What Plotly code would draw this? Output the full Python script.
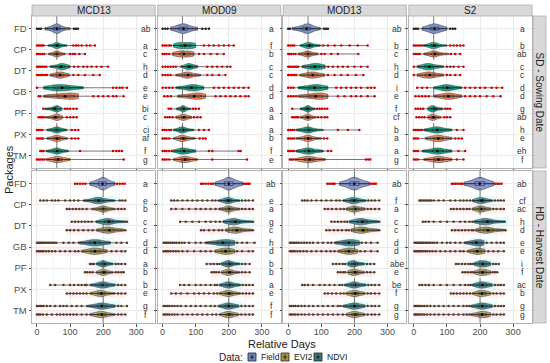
import numpy as np
import plotly.graph_objects as go
from plotly.subplots import make_subplots

packages = ["FD", "CP", "DT", "GB", "PF", "PX", "TM"]
sensors = ["MCD13", "MOD09", "MOD13", "S2"]
periods = ["SD - Sowing Date", "HD - Harvest Date"]
row_keys = ["FD", "CP_N", "CP_E", "DT_N", "DT_E", "GB_N", "GB_E",
            "PF_N", "PF_E", "PX_N", "PX_E", "TM_N", "TM_E"]
x_ticks = [0, 100, 200, 300]
ref_day = [60, 200]

# ---- Sowing date (SD): (core values, outlier values) ----
SD_MCD13 = {
    "FD": ([24, 35, 45, 52, 56, 58, 60, 62, 64, 68, 75, 85, 100], [0, 6, 12, 112, 118, 124]),
    "CP_N": ([33, 45, 52, 56, 59, 60, 61, 63, 66, 72, 80, 90], [0, 5, 10, 15, 20, 110, 118, 125, 135, 150, 160, 175]),
    "CP_E": ([35, 45, 52, 56, 58, 60, 62, 64, 68, 75, 85], [0, 5, 10, 16, 22, 100, 108, 115, 128, 145]),
    "DT_N": ([40, 52, 62, 68, 72, 75, 77, 80, 85, 92, 100], [0, 5, 10, 16, 22, 28, 112, 125, 140, 152, 165, 180, 195, 215]),
    "DT_E": ([40, 50, 58, 64, 68, 70, 72, 76, 82, 90, 98], [0, 6, 12, 18, 25, 30, 110, 125, 145, 170, 190]),
    "GB_N": ([20, 35, 45, 55, 62, 68, 72, 78, 85, 95, 110, 125, 140], [0, 230, 240, 250, 258, 272]),
    "GB_E": ([20, 40, 55, 65, 75, 85, 95, 105, 112, 115, 118, 125], [5, 10, 170, 185, 200, 215, 230, 240, 262]),
    "PF_N": ([24, 35, 45, 52, 56, 58, 60, 62, 64, 68, 75], [19, 85, 92, 100, 110, 120]),
    "PF_E": ([24, 38, 48, 54, 58, 60, 62, 65, 70, 78], [5, 10, 15, 20, 90, 100, 110, 120]),
    "PX_N": ([30, 42, 50, 55, 58, 60, 62, 65, 70, 78, 90], [0, 5, 10, 16, 105, 115, 125]),
    "PX_E": ([30, 42, 50, 55, 58, 60, 62, 66, 72, 80, 92], [0, 6, 12, 18, 105, 115, 125]),
    "TM_N": ([28, 40, 50, 55, 58, 60, 62, 66, 72, 82, 95], [10, 15, 20, 130, 230, 240, 248, 257]),
    "TM_E": ([28, 40, 50, 56, 60, 62, 65, 70, 78, 88, 100], [0, 5, 10, 16, 22, 262]),
}
SD_MOD09 = {
    "FD": ([24, 38, 48, 55, 60, 63, 66, 70, 78, 90, 106], [0, 8, 15, 120, 130, 140]),
    "CP_N": ([33, 45, 52, 55, 57, 65, 80, 84, 86, 90, 100], [0, 6, 12, 20, 25, 125, 140, 155, 170, 185, 200, 215]),
    "CP_E": ([30, 42, 52, 55, 57, 65, 78, 84, 86, 95], [0, 6, 12, 20, 110, 125, 145, 165, 185]),
    "DT_N": ([55, 65, 72, 76, 79, 80, 82, 85, 92, 100, 106], [0, 8, 16, 24, 32, 40, 135, 150, 165, 180, 195, 205]),
    "DT_E": ([40, 55, 65, 70, 74, 76, 78, 82, 90, 102, 115], [0, 8, 16, 24, 135, 150, 170, 190]),
    "GB_N": ([40, 55, 70, 80, 86, 90, 93, 98, 105, 115, 125], [0, 10, 20, 30, 155, 170, 185, 200, 215, 230, 245, 260]),
    "GB_E": ([45, 60, 75, 88, 95, 98, 105, 115, 118, 122, 130], [5, 15, 25, 160, 175, 190, 205, 220, 235, 250, 260]),
    "PF_N": ([42, 50, 56, 60, 62, 63, 65, 68, 74, 85], [18, 25, 92, 100, 110]),
    "PF_E": ([40, 50, 56, 60, 62, 64, 67, 72, 80, 88], [8, 15, 22, 30, 95, 105, 115]),
    "PX_N": ([33, 45, 52, 56, 58, 60, 63, 66, 72, 82, 95], [0, 6, 12, 20, 25, 110, 125, 140]),
    "PX_E": ([33, 45, 52, 56, 58, 60, 64, 68, 75, 85, 98], [0, 6, 12, 20, 112, 122, 130]),
    "TM_N": ([30, 44, 52, 56, 60, 63, 66, 72, 80, 90, 100], [0, 6, 12, 20, 28, 140, 150, 230, 236]),
    "TM_E": ([33, 46, 54, 60, 64, 67, 70, 75, 82, 92, 105], [0, 6, 12, 20, 150, 255]),
}
SD_MOD13 = {
    "FD": ([12, 28, 40, 48, 55, 58, 60, 63, 68, 78, 97], [0, 5, 108, 114, 120]),
    "CP_N": ([36, 48, 54, 58, 60, 62, 64, 68, 75, 85, 97], [0, 6, 12, 18, 106, 120, 140, 160, 185, 210, 240]),
    "CP_E": ([30, 42, 50, 54, 57, 59, 61, 64, 70, 80, 90], [0, 5, 10, 16, 22, 100, 110, 130, 150, 212]),
    "DT_N": ([42, 55, 65, 72, 78, 82, 85, 90, 97, 105, 112], [0, 6, 12, 18, 24, 30, 121, 135, 150, 165, 180, 200, 220, 240]),
    "DT_E": ([35, 50, 60, 66, 70, 73, 76, 82, 90, 100, 110], [0, 6, 12, 18, 24, 120, 140, 160, 180, 205, 227]),
    "GB_N": ([30, 45, 60, 70, 78, 82, 86, 92, 100, 110, 120], [0, 8, 16, 145, 160, 175, 190, 205, 220, 240, 250, 261]),
    "GB_E": ([30, 45, 60, 72, 80, 88, 95, 102, 105, 110, 120], [0, 8, 16, 24, 150, 170, 190, 205, 220, 240, 261]),
    "PF_N": ([36, 46, 52, 56, 59, 60, 62, 65, 70, 82], [12, 88, 95, 102, 110, 118]),
    "PF_E": ([36, 46, 52, 56, 59, 60, 62, 66, 72, 84], [12, 18, 24, 30, 90, 100, 110, 118]),
    "PX_N": ([24, 38, 48, 54, 58, 60, 62, 66, 74, 88, 106], [0, 6, 12, 18, 150, 180, 215]),
    "PX_E": ([24, 38, 48, 54, 58, 60, 62, 66, 72, 84, 100], [0, 6, 12, 18, 108, 118]),
    "TM_N": ([24, 38, 48, 54, 58, 61, 64, 70, 78, 92, 106], [0, 6, 12, 18, 120, 130]),
    "TM_E": ([20, 36, 46, 54, 58, 62, 66, 72, 82, 98, 112], [5, 10, 15, 235, 242, 248]),
}
SD_S2 = {
    "FD": ([25, 38, 48, 55, 59, 62, 65, 70, 78, 88, 100], [0, 6, 12, 110, 118, 125]),
    "CP_N": ([28, 42, 50, 55, 58, 60, 62, 66, 72, 84, 100], [0, 6, 12, 18, 24, 110, 120, 130, 140, 150]),
    "CP_E": ([30, 44, 52, 56, 59, 61, 64, 68, 75, 88, 105], [0, 6, 12, 18, 112, 125, 140]),
    "DT_N": ([10, 22, 32, 38, 42, 45, 48, 54, 62, 75, 90], [0, 100, 110, 120, 135, 150]),
    "DT_E": ([10, 22, 32, 38, 43, 46, 50, 56, 64, 76, 90], [0, 100, 110, 125, 140]),
    "GB_N": ([60, 75, 85, 92, 97, 100, 103, 108, 118, 130, 145], [10, 25, 40, 155, 170, 185, 200, 215, 235, 250, 267]),
    "GB_E": ([60, 75, 88, 95, 100, 104, 108, 114, 122, 132, 145], [5, 15, 25, 35, 45, 155, 170, 185, 200, 220, 240, 262]),
    "PF_N": ([42, 48, 52, 55, 57, 58, 60, 64, 70, 80, 88], [5, 12, 20, 28, 95, 102, 110]),
    "PF_E": ([42, 48, 52, 55, 57, 59, 61, 66, 72, 82], [8, 16, 24, 32, 92, 100, 110]),
    "PX_N": ([30, 45, 55, 62, 67, 70, 73, 78, 86, 100, 115], [0, 6, 12, 18, 24, 130, 150]),
    "PX_E": ([35, 48, 58, 65, 70, 74, 77, 82, 90, 102, 115], [0, 6, 12, 125, 135, 145]),
    "TM_N": ([25, 42, 55, 63, 68, 72, 75, 80, 88, 102, 115], [0, 6, 12, 135, 155]),
    "TM_E": ([30, 45, 58, 66, 72, 75, 78, 83, 92, 104, 115], [0, 6, 12, 130, 150]),
}

# ---- Harvest date (HD) ----
HD_MCD13 = {
    "FD": ([160, 172, 182, 190, 195, 198, 200, 202, 206, 212, 222, 236], [115, 122, 130, 138, 146, 242, 250, 258, 265]),
    "CP_N": ([140, 158, 170, 178, 183, 186, 189, 194, 202, 216, 236], [10, 20, 30, 45, 55, 65, 85, 100, 112, 125, 250, 258, 267]),
    "CP_E": ([165, 180, 190, 195, 198, 200, 202, 206, 212, 222, 236], [90, 98, 108, 118, 128, 138, 150, 245, 255, 265]),
    "DT_N": ([178, 192, 202, 207, 211, 214, 217, 223, 233, 250, 268], [105, 115, 125, 135, 145, 155, 165, 272]),
    "DT_E": ([180, 194, 204, 209, 213, 216, 219, 225, 236, 250, 262], [90, 100, 112, 125, 140, 155, 168, 267]),
    "GB_N": ([125, 142, 156, 165, 171, 175, 179, 185, 194, 208, 222], [0, 4, 8, 12, 16, 20, 25, 30, 35, 40, 46, 52, 58, 80, 96, 110, 240, 255, 272]),
    "GB_E": ([135, 150, 160, 166, 171, 175, 179, 185, 193, 203, 212], [0, 5, 10, 15, 20, 28, 36, 45, 55, 70, 85, 100, 115, 125, 225, 240, 255, 267]),
    "PF_N": ([180, 188, 193, 197, 199, 201, 203, 206, 212, 220, 230], [160, 166, 172, 238, 246, 255, 267]),
    "PF_E": ([180, 188, 193, 197, 199, 201, 203, 206, 212, 220, 230], [145, 152, 160, 168, 238, 246, 255, 262]),
    "PX_N": ([160, 175, 186, 192, 196, 199, 202, 206, 214, 224, 236], [40, 55, 80, 100, 112, 125, 135, 145, 150, 245, 255, 267]),
    "PX_E": ([160, 172, 182, 187, 190, 193, 196, 200, 208, 220, 236], [90, 100, 110, 120, 130, 140, 150, 245, 255, 267]),
    "TM_N": ([150, 168, 180, 188, 193, 196, 199, 204, 212, 224, 236], [0, 5, 10, 15, 20, 30, 40, 55, 70, 80, 90, 105, 120, 135, 245, 255, 272]),
    "TM_E": ([160, 172, 182, 188, 192, 195, 198, 203, 210, 222, 236], [0, 5, 10, 18, 30, 45, 60, 70, 80, 90, 100, 110, 120, 135, 150, 245, 255, 267]),
}
HD_MOD09 = {
    "FD": ([158, 172, 183, 191, 196, 199, 201, 204, 209, 217, 228, 243], [116, 122, 130, 138, 146, 152, 246, 252, 258, 263]),
    "CP_N": ([168, 180, 188, 193, 196, 198, 200, 203, 210, 220, 233], [26, 35, 45, 60, 75, 90, 105, 120, 135, 150, 160, 240, 250, 260, 273]),
    "CP_E": ([170, 182, 190, 195, 198, 200, 202, 205, 212, 222, 233], [26, 40, 60, 80, 100, 115, 130, 145, 160, 240, 250, 262, 273]),
    "DT_N": ([183, 195, 204, 210, 214, 216, 219, 225, 236, 252, 270], [53, 70, 90, 110, 130, 145, 160, 173, 273]),
    "DT_E": ([190, 202, 210, 215, 218, 221, 224, 230, 240, 255, 270], [116, 125, 140, 155, 170, 180, 273]),
    "GB_N": ([128, 148, 162, 172, 180, 186, 192, 198, 205, 212, 218], [3, 8, 13, 18, 24, 30, 36, 42, 50, 58, 66, 80, 100, 115, 225, 240, 255, 278]),
    "GB_E": ([158, 168, 176, 182, 187, 191, 195, 200, 206, 212, 218], [3, 8, 13, 18, 24, 32, 40, 48, 60, 75, 95, 115, 130, 145, 225, 240, 260, 273]),
    "PF_N": ([178, 186, 191, 195, 198, 200, 202, 206, 212, 222, 233], [133, 145, 155, 165, 172, 240, 250, 263]),
    "PF_E": ([178, 186, 191, 195, 198, 200, 202, 206, 212, 222, 233], [148, 155, 162, 170, 240, 250, 263]),
    "PX_N": ([172, 182, 190, 195, 198, 200, 203, 207, 214, 224, 235], [53, 65, 80, 100, 115, 130, 145, 158, 165, 242, 252, 262, 273]),
    "PX_E": ([172, 182, 189, 194, 197, 199, 202, 206, 213, 223, 235], [26, 40, 55, 75, 95, 110, 125, 140, 155, 165, 242, 252, 262, 273]),
    "TM_N": ([168, 180, 188, 193, 197, 199, 202, 206, 213, 222, 230], [3, 8, 14, 20, 28, 36, 45, 55, 70, 85, 100, 115, 130, 145, 158, 238, 250, 262, 273]),
    "TM_E": ([172, 183, 190, 195, 198, 200, 203, 207, 214, 222, 230], [3, 8, 14, 20, 28, 36, 45, 60, 75, 90, 105, 120, 135, 150, 162, 238, 250, 262, 273]),
}
HD_MOD13 = {
    "FD": ([155, 170, 182, 190, 195, 198, 201, 204, 210, 218, 230, 245], [118, 124, 130, 136, 140, 248, 254, 260, 265]),
    "CP_N": ([165, 178, 186, 192, 195, 198, 200, 204, 212, 222, 235], [42, 50, 58, 70, 85, 100, 115, 130, 145, 155, 242, 252, 262, 275]),
    "CP_E": ([175, 185, 192, 196, 199, 201, 204, 208, 215, 225, 232], [110, 120, 132, 145, 158, 168, 240, 250, 262, 275]),
    "DT_N": ([185, 198, 207, 213, 218, 222, 225, 231, 242, 258, 272], [130, 140, 150, 160, 170, 178, 275]),
    "DT_E": ([190, 202, 210, 216, 220, 223, 226, 232, 243, 258, 272], [115, 125, 138, 150, 162, 175, 183, 275]),
    "GB_N": ([140, 155, 166, 174, 180, 185, 190, 196, 203, 210, 215], [5, 10, 15, 20, 26, 32, 40, 48, 56, 65, 75, 90, 105, 120, 130, 222, 235, 250, 270]),
    "GB_E": ([150, 162, 170, 176, 180, 183, 187, 192, 198, 205, 210], [5, 10, 15, 20, 28, 36, 46, 56, 70, 85, 100, 115, 128, 140, 218, 232, 250, 270]),
    "PF_N": ([180, 186, 190, 193, 195, 197, 200, 205, 212, 222, 230], [135, 145, 155, 165, 172, 238, 248, 260]),
    "PF_E": ([180, 187, 191, 195, 198, 200, 203, 207, 213, 222, 230], [150, 158, 166, 172, 238, 248, 260]),
    "PX_N": ([170, 182, 190, 195, 198, 200, 203, 207, 214, 224, 235], [42, 50, 60, 75, 95, 110, 125, 140, 155, 163, 242, 252, 262, 275]),
    "PX_E": ([175, 185, 191, 196, 199, 201, 204, 208, 215, 224, 232], [110, 120, 132, 145, 158, 168, 240, 250, 262, 275]),
    "TM_N": ([165, 178, 187, 193, 197, 200, 203, 207, 214, 224, 232], [5, 10, 16, 22, 30, 40, 50, 62, 75, 90, 105, 120, 135, 150, 158, 240, 252, 262, 275]),
    "TM_E": ([175, 184, 191, 196, 199, 201, 204, 208, 215, 224, 232], [5, 10, 16, 22, 30, 40, 50, 62, 75, 90, 105, 120, 135, 150, 165, 240, 252, 262, 275]),
}
HD_S2 = {
    "FD": ([152, 168, 180, 189, 195, 198, 201, 204, 210, 218, 229, 242], [115, 120, 126, 132, 138, 144, 147, 246, 252, 258, 265]),
    "CP_N": ([177, 187, 194, 198, 201, 203, 206, 210, 217, 227, 237], [17, 22, 28, 34, 40, 46, 52, 60, 75, 90, 110, 125, 140, 150, 160, 170, 245, 255, 263, 272]),
    "CP_E": ([177, 187, 193, 197, 200, 202, 205, 209, 216, 226, 232], [112, 120, 130, 140, 150, 160, 168, 240, 250, 262, 272]),
    "DT_N": ([182, 196, 205, 211, 215, 218, 222, 228, 240, 258, 277], [27, 35, 45, 60, 80, 100, 120, 140, 155, 168, 177]),
    "DT_E": ([187, 199, 208, 213, 217, 220, 223, 230, 242, 258, 274], [115, 125, 135, 145, 155, 165, 175, 180, 277]),
    "GB_N": ([152, 165, 175, 182, 187, 191, 195, 200, 205, 210, 212], [2, 6, 10, 14, 18, 22, 26, 30, 35, 40, 45, 50, 56, 62, 70, 85, 100, 110, 125, 140, 220, 235, 250, 262, 272]),
    "GB_E": ([162, 172, 180, 185, 189, 192, 195, 200, 206, 212, 215], [2, 6, 10, 14, 18, 22, 28, 34, 40, 48, 56, 66, 80, 95, 110, 125, 140, 150, 225, 240, 255, 272]),
    "PF_N": ([182, 190, 196, 200, 204, 208, 212, 216, 220, 226, 232], [127, 135, 145, 155, 165, 172, 178, 240, 248, 257]),
    "PF_E": ([182, 190, 196, 200, 204, 207, 211, 215, 220, 226, 232], [147, 155, 163, 172, 178, 238, 245, 252]),
    "PX_N": ([177, 188, 195, 200, 203, 206, 209, 214, 222, 230, 237], [17, 25, 35, 45, 60, 80, 100, 120, 140, 155, 165, 172, 245, 255, 263, 272]),
    "PX_E": ([177, 188, 195, 199, 202, 205, 208, 212, 220, 228, 232], [112, 120, 130, 140, 150, 160, 170, 240, 250, 262, 272]),
    "TM_N": ([172, 185, 194, 200, 204, 207, 210, 214, 222, 230, 237], [2, 6, 10, 15, 20, 26, 32, 40, 50, 62, 75, 90, 105, 120, 135, 150, 160, 168, 245, 255, 263, 272]),
    "TM_E": ([172, 185, 194, 200, 204, 207, 210, 214, 222, 228, 232], [2, 6, 10, 15, 20, 26, 32, 40, 50, 62, 75, 90, 105, 120, 135, 150, 160, 168, 240, 250, 262, 272]),
}

SD_letters = {
    "MCD13": ["ab", "a", "c", "h", "d", "e", "e", "bi", "c", "ci", "af", "f", "g"],
    "MOD09": ["a", "f", "b", "c", "c", "d", "d", "a", "a", "a", "b", "f", "e"],
    "MOD13": ["ab", "b", "c", "h", "d", "i", "e", "f", "cf", "b", "a", "a", "g"],
    "S2": ["a", "b", "ab", "c", "c", "d", "d", "g", "ab", "h", "e", "eh", "f"],
}
HD_letters = {
    "MCD13": ["a", "e", "b", "c", "c", "d", "d", "a", "b", "b", "e", "g", "f"],
    "MOD09": ["ab", "e", "a", "g", "c", "h", "d", "b", "b", "a", "e", "f", "f"],
    "MOD13": ["ab", "f", "a", "c", "c", "d", "d", "abe", "e", "be", "f", "g", "g"],
    "S2": ["ab", "cf", "ac", "h", "d", "e", "e", "i", "f", "ac", "b", "g", "g"],
}

panels = [[SD_MCD13, SD_MOD09, SD_MOD13, SD_S2], [HD_MCD13, HD_MOD09, HD_MOD13, HD_S2]]
letters = [SD_letters, HD_letters]

fill_colors = [
    {"FD": "#7D93CB", "N": "#1FB08E", "E": "#EC8A62"},
    {"FD": "#8A9AD0", "N": "#5296A2", "E": "#B3A767"},
]
out_colors = [{"FD": "#222222", "N": "#D40000", "E": "#D40000"},
              {"FD": "#D40000", "N": "#5B3A20", "E": "#5B3A20"}]
legend_items = [("Field", "#7286C2"), ("EVI2", "#A99848"), ("NDVI", "#3F7A80")]


def pos_of(key):
    if key == "FD":
        return 0.0
    pkg, t = key.split("_")
    i = packages.index(pkg)
    return i - 0.2 if t == "N" else i + 0.2


def kind_of(key):
    return "FD" if key == "FD" else key.split("_")[1]


W, H = 550, 363
ML, MR, MT, MB = 32, 18, 16, 40
PW, PH = W - ML - MR, H - MT - MB


def px(xp):
    return (xp - ML) / PW


def py(yp):
    return 1 - (yp - MT) / PH


def paper_text(x, y, text, size, angle=0, xanchor="center", color="#1A1A1A"):
    fig.add_annotation(x=x, y=y, xref="paper", yref="paper", text=text, textangle=angle,
                       xanchor=xanchor, yanchor="middle", showarrow=False,
                       font=dict(size=size, color=color))


fig = make_subplots(rows=2, cols=4, shared_xaxes=True, shared_yaxes=True,
                    horizontal_spacing=0.005, vertical_spacing=0.01)

for r in range(2):
    for c in range(4):
        data = panels[r][c]
        n = r * 4 + c + 1
        xr = "x" if n == 1 else f"x{n}"
        yr = "y" if n == 1 else f"y{n}"
        for key in row_keys:
            core, out = data[key]
            kind = kind_of(key)
            p = pos_of(key)
            allv = core + out
            # background tint in harvest panels
            if r == 1 and kind == "E":
                fig.add_shape(type="rect", xref=xr, yref=yr, x0=min(allv), x1=max(allv),
                              y0=p - 0.22, y1=p + 0.22, fillcolor="rgba(255,205,222,0.3)",
                              line_width=0, layer="below")
            if r == 1 and kind == "N":
                fig.add_shape(type="rect", xref=xr, yref=yr, x0=np.median(core) - 25, x1=max(core) + 10,
                              y0=p - 0.22, y1=p + 0.22, fillcolor="rgba(175,250,250,0.4)",
                              line_width=0, layer="below")
            fig.add_trace(go.Scatter(x=[min(allv), max(allv)], y=[p, p], mode="lines",
                                     line=dict(color="#1a1a1a", width=0.6), showlegend=False,
                                     hoverinfo="skip"), row=r + 1, col=c + 1)
            w = (0.46 if r == 0 else 0.6) if kind == "FD" else 0.3
            fig.add_trace(go.Violin(x=core, y0=p, orientation="h", width=w, spanmode="hard",
                                    fillcolor=fill_colors[r][kind], opacity=1,
                                    line=dict(color="#2a2a2a", width=0.5),
                                    box=dict(visible=True, width=0.3, fillcolor="rgba(0,0,0,0)",
                                             line=dict(color="#111111", width=0.5)),
                                    meanline=dict(visible=False), points=False,
                                    showlegend=False, hoverinfo="skip"), row=r + 1, col=c + 1)
            fig.add_trace(go.Scatter(x=out, y=[p] * len(out), mode="markers",
                                     marker=dict(color=out_colors[r][kind], size=2.5, line_width=0),
                                     showlegend=False, hoverinfo="skip"), row=r + 1, col=c + 1)
            fig.add_trace(go.Scatter(x=[float(np.mean(core))], y=[p], mode="markers",
                                     marker=dict(color="black", size=2.5), showlegend=False,
                                     hoverinfo="skip"), row=r + 1, col=c + 1)
        for key, lab in zip(row_keys, letters[r][sensors[c]]):
            fig.add_annotation(x=328, y=pos_of(key), xref=xr, yref=yr, text=lab, showarrow=False,
                               xanchor="center", yanchor="middle",
                               font=dict(size=8.5, color="#333333"))
        fig.add_shape(type="line", xref=xr, yref=f"{yr} domain", x0=ref_day[r], x1=ref_day[r],
                      y0=0, y1=1, line=dict(color="#555555", width=0.8, dash="dash"))

axis_common = dict(showline=True, mirror=True, linecolor="#B3B3B3", linewidth=1,
                   gridcolor="#EBEBEB", gridwidth=0.8, zeroline=False, ticks="outside",
                   ticklen=2.5, tickcolor="#555555", automargin=False)
fig.update_xaxes(range=[-15, 357], tickvals=x_ticks, tickfont=dict(size=9, color="#4D4D4D"),
                 ticklabelstandoff=-2,
                 minor=dict(tickvals=[50, 150, 250], showgrid=True, gridcolor="#F4F4F4", ticks=""),
                 **axis_common)
fig.update_yaxes(range=[6.6, -0.6], tickvals=list(range(7)), ticktext=packages,
                 tickfont=dict(size=9.5, color="#4D4D4D"), **axis_common)

# strips
strip_fill, strip_line = "#D9D9D9", "#ABABAB"
for c in range(4):
    dom = fig.layout["xaxis" if c == 0 else f"xaxis{c + 1}"].domain
    fig.add_shape(type="rect", xref="paper", yref="paper", x0=dom[0], x1=dom[1],
                  y0=1.0, y1=py(5), fillcolor=strip_fill, line=dict(color=strip_line, width=0.8))
    paper_text((dom[0] + dom[1]) / 2, (1 + py(5)) / 2, sensors[c], 10)
for r in range(2):
    dom = fig.layout["yaxis" if r == 0 else "yaxis5"].domain
    fig.add_shape(type="rect", xref="paper", yref="paper", x0=px(533), x1=px(546),
                  y0=dom[0], y1=dom[1], fillcolor=strip_fill, line=dict(color=strip_line, width=0.8))
    paper_text(px(539.5), (dom[0] + dom[1]) / 2, periods[r], 10, angle=90)

# axis titles
paper_text(px(282), py(343.5), "Relative Days", 11)
paper_text(px(9), py(170), "Packages", 11, angle=-90)

# legend (drawn manually)
paper_text(px(245), py(357), "Data:", 10, xanchor="right")
lx = 248
for name, col in legend_items:
    fig.add_shape(type="rect", xref="paper", yref="paper", x0=px(lx), x1=px(lx + 8),
                  y0=py(361), y1=py(353), fillcolor=col, line=dict(color="#222222", width=0.8))
    fig.add_shape(type="line", xref="paper", yref="paper", x0=px(lx + 4), x1=px(lx + 4),
                  y0=py(359.5), y1=py(354.5), line=dict(color="#111111", width=0.8))
    fig.add_shape(type="line", xref="paper", yref="paper", x0=px(lx + 2), x1=px(lx + 6),
                  y0=py(357), y1=py(357), line=dict(color="#111111", width=0.8))
    paper_text(px(lx + 11), py(357), name, 8.5, xanchor="left")
    lx += 33

fig.update_layout(width=W, height=H, margin=dict(l=ML, r=MR, t=MT, b=MB, autoexpand=False),
                  plot_bgcolor="white", paper_bgcolor="white", violinmode="overlay",
                  showlegend=False, font=dict(family="Liberation Sans, Arial, sans-serif"))

fig.write_html("out.html", config={"displayModeBar": False},
               post_script="document.body.style.margin='0';document.body.style.padding='0';")
